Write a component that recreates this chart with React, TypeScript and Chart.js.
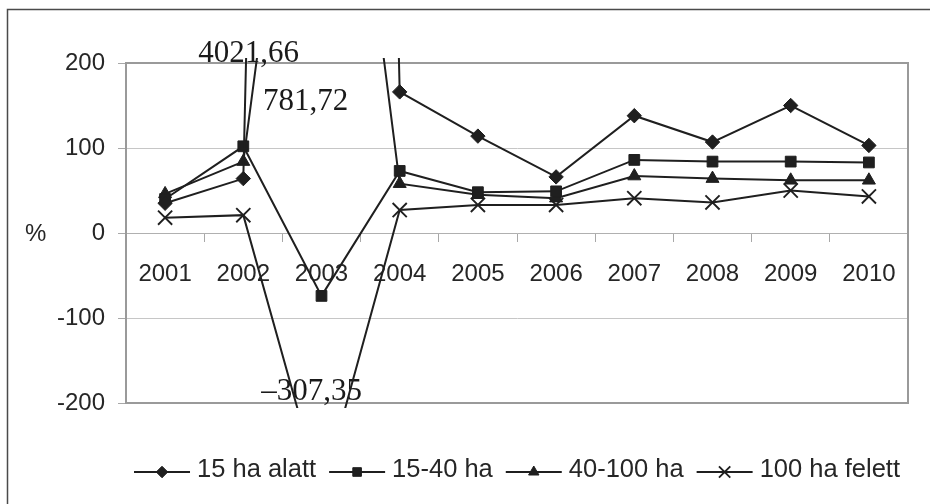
import React, { useEffect, useRef } from "react";
import { Chart, registerables } from "chart.js";
import { drawPoint } from "chart.js/helpers";

Chart.register(...registerables);

// ---- data ----
const years = ["2001", "2002", "2003", "2004", "2005", "2006", "2007", "2008", "2009", "2010"];
const seriesNames = ["15 ha alatt", "15-40 ha", "40-100 ha", "100 ha felett"];
const below15 = [35, 64, 4021.66, 166, 114, 66, 138, 107, 150, 103];
const from15to40 = [40, 102, -74, 73, 48, 49, 86, 84, 84, 83];
const from40to100 = [46, 84, 781.72, 58, 45, 41, 67, 64, 62, 62];
const above100 = [18, 21, -307.35, 27, 33, 33, 41, 36, 50, 43];
const yMin = -200;
const yMax = 200;
const yStep = 100;
const yUnit = "%";
const outOfRangeLabels = ["4021,66", "781,72", "\u2013307,35"];

// ---- style ----
const FONT = "'Liberation Sans', Arial, sans-serif";
const SERIF = "'Liberation Serif', 'Times New Roman', serif";
const INK = "#1f1f1f";
const TEXT = "#262626";
const GRID = "#c6c6c6";
const FRAME = "#9a9a9a";

const markerStyles = [
  { pointStyle: "rectRot", radius: 7.2, borderWidth: 1 },
  { pointStyle: "rect", radius: 7.6, borderWidth: 1 },
  { pointStyle: "triangle", radius: 7.5, borderWidth: 1 },
  { pointStyle: "crossRot", radius: 10, borderWidth: 1.9 },
];

const seriesData = [below15, from15to40, from40to100, above100];

const decorPlugin = {
  id: "decor",
  beforeDraw(chart: any) {
    const { ctx, width, height } = chart;
    ctx.save();
    ctx.fillStyle = "#ffffff";
    ctx.fillRect(0, 0, width, height);
    ctx.strokeStyle = "#4a4a4a";
    ctx.lineWidth = 1.5;
    ctx.beginPath();
    ctx.moveTo(7.5, height + 5);
    ctx.lineTo(7.5, 9.5);
    ctx.lineTo(width + 5, 9.5);
    ctx.stroke();
    ctx.restore();
  },
  beforeDatasetsDraw(chart: any) {
    const { ctx, chartArea } = chart;
    const xs = chart.scales.x;
    ctx.save();
    // plot frame
    ctx.strokeStyle = FRAME;
    ctx.lineWidth = 2;
    ctx.beginPath();
    ctx.moveTo(chartArea.left, chartArea.top);
    ctx.lineTo(chartArea.right, chartArea.top);
    ctx.lineTo(chartArea.right, chartArea.bottom);
    ctx.lineTo(chartArea.left, chartArea.bottom);
    ctx.stroke();
    // unit label
    ctx.fillStyle = TEXT;
    ctx.font = `24px ${FONT}`;
    ctx.textAlign = "left";
    ctx.textBaseline = "alphabetic";
    ctx.fillText(yUnit, 25, 241);
    // labels for out-of-range values
    const x3 = xs.getPixelForValue(2);
    ctx.font = `31px ${SERIF}`;
    ctx.textAlign = "center";
    ctx.fillStyle = "#1a1a1a";
    ctx.fillText(outOfRangeLabels[0], x3 - 73, chartArea.top - 1);
    ctx.fillText(outOfRangeLabels[1], x3 - 16, chartArea.top + 47);
    ctx.fillText(outOfRangeLabels[2], x3 - 10, chartArea.bottom - 3);
    ctx.restore();
  },
  afterDraw(chart: any) {
    const { ctx, chartArea } = chart;
    ctx.save();
    ctx.font = `25.5px ${FONT}`;
    const lineLen = 56;
    const gapText = 7;
    const gapItem = 13;
    const widths = seriesNames.map((n) => ctx.measureText(n).width);
    let total = 0;
    widths.forEach((w, i) => {
      total += lineLen + gapText + w + (i > 0 ? gapItem : 0);
    });
    let x = (chartArea.left + chartArea.right) / 2 - total / 2;
    const y = 472;
    seriesNames.forEach((name, i) => {
      ctx.strokeStyle = INK;
      ctx.fillStyle = INK;
      ctx.lineWidth = 1.8;
      ctx.beginPath();
      ctx.moveTo(x, y);
      ctx.lineTo(x + lineLen, y);
      ctx.stroke();
      const m = markerStyles[i];
      ctx.lineWidth = m.borderWidth;
      drawPoint(ctx, { pointStyle: m.pointStyle, radius: m.radius * 0.8, rotation: 0, borderWidth: m.borderWidth }, x + lineLen / 2, y);
      ctx.fillStyle = TEXT;
      ctx.textAlign = "left";
      ctx.textBaseline = "alphabetic";
      ctx.fillText(name, x + lineLen + gapText, y + 5);
      x += lineLen + gapText + widths[i] + gapItem;
    });
    ctx.restore();
  },
};

export default function App() {
  const canvasRef = useRef<HTMLCanvasElement | null>(null);

  useEffect(() => {
    if (!canvasRef.current) return;
    const chart = new Chart(canvasRef.current, {
      type: "line",
      data: {
        labels: years,
        datasets: seriesNames.map((name, i) => ({
          label: name,
          data: seriesData[i],
          borderColor: INK,
          backgroundColor: INK,
          borderWidth: 2,
          pointStyle: markerStyles[i].pointStyle as any,
          pointRadius: markerStyles[i].radius,
          pointBorderWidth: markerStyles[i].borderWidth,
          pointBackgroundColor: INK,
          pointBorderColor: INK,
          tension: 0,
          clip: { left: 6, top: 5, right: 6, bottom: 5 } as any,
        })),
      },
      options: {
        animation: false,
        responsive: false,
        maintainAspectRatio: false,
        events: [],
        layout: { padding: { top: 63, left: 0, right: 22, bottom: 101 } },
        plugins: {
          legend: { display: false },
          tooltip: { enabled: false },
          title: { display: false },
        },
        scales: {
          x: {
            type: "category",
            position: { y: 0 } as any,
            offset: true,
            grid: {
              display: true,
              drawOnChartArea: false,
              drawTicks: true,
              tickLength: 8,
              color: "#a8a8a8",
              offset: true,
            },
            border: { display: true, color: "#b0b0b0", width: 1 },
            ticks: {
              font: { family: FONT, size: 24 },
              color: TEXT,
              padding: 19,
              maxRotation: 0,
              autoSkip: false,
            },
            afterFit: (s: any) => {
              s.height = 0;
              s.paddingLeft = 0;
              s.paddingRight = 0;
            },
          },
          y: {
            type: "linear",
            min: yMin,
            max: yMax,
            ticks: {
              stepSize: yStep,
              font: { family: FONT, size: 24 },
              color: TEXT,
              padding: 13,
            },
            grid: { color: GRID, lineWidth: 1, tickLength: 8, tickColor: "#a8a8a8" },
            border: { display: true, color: FRAME, width: 2 },
            afterFit: (s: any) => {
              s.width = 126;
              s.paddingTop = 0;
              s.paddingBottom = 0;
            },
          },
        },
      },
      plugins: [decorPlugin],
    });
    return () => chart.destroy();
  }, []);

  return (
    <div style={{ position: "fixed", left: 0, top: 0, width: 930, height: 504, background: "#fff" }}>
      <canvas ref={canvasRef} width={930} height={504} style={{ width: 930, height: 504, display: "block" }} />
    </div>
  );
}
